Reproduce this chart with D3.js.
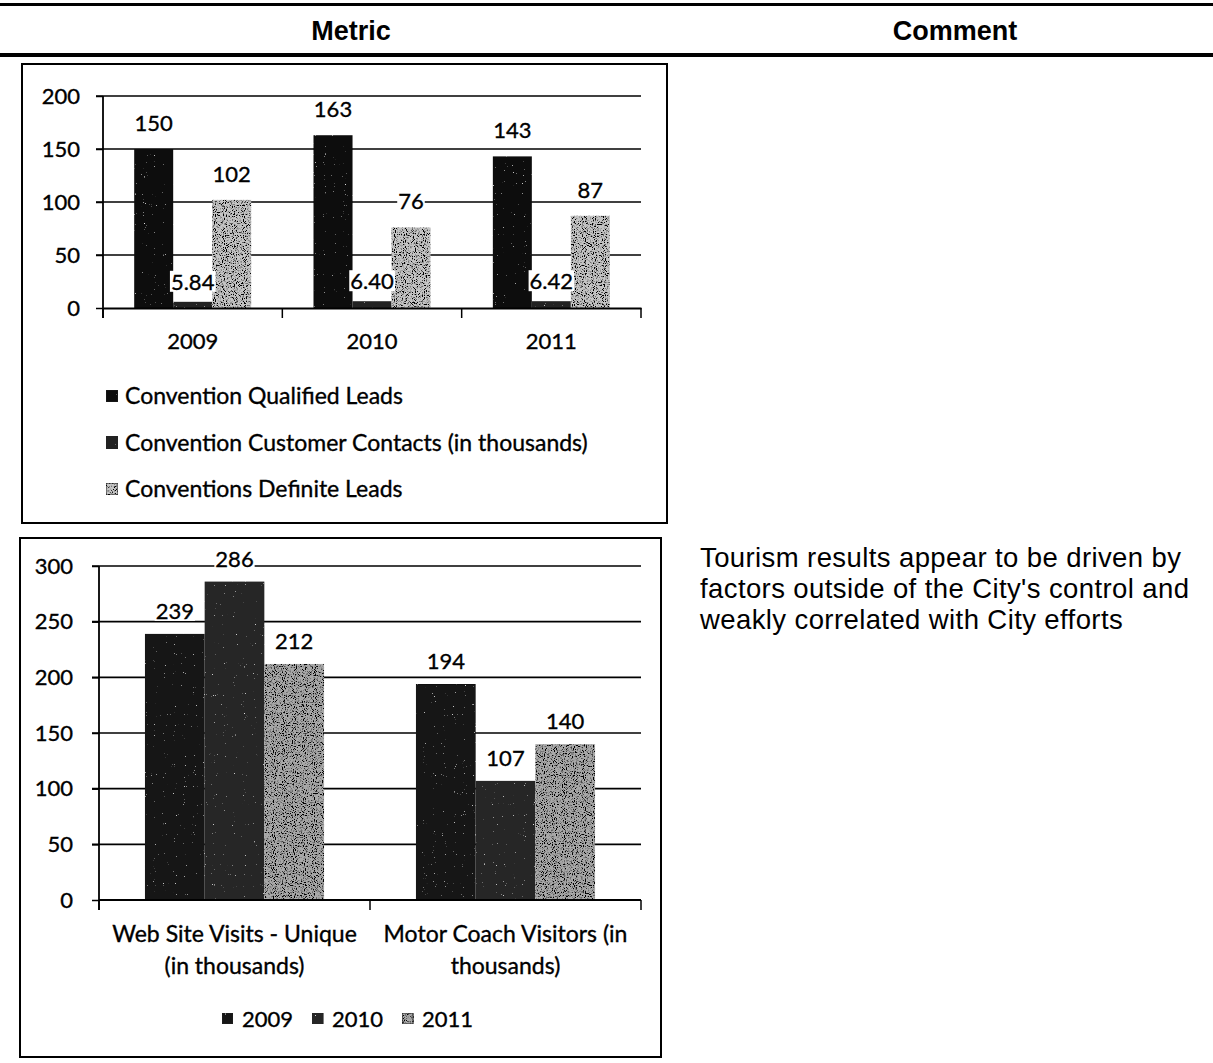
<!DOCTYPE html>
<html><head><meta charset="utf-8">
<script src="https://cdn.jsdelivr.net/npm/d3@7"></script>
<style>
html,body{margin:0;padding:0;background:#fff;}
svg{display:block;}
</style></head>
<body>
<script>
// ---------- DATA ----------
const years1 = ["2009", "2010", "2011"];
const series1Names = ["Convention Qualified Leads", "Convention Customer Contacts (in thousands)", "Conventions Definite Leads"];
const qualifiedLeads = [150, 163, 143];
const customerContacts = [5.84, 6.40, 6.42];
const definiteLeads = [102, 76, 87];
const ticks1 = [0, 50, 100, 150, 200];

const categories2 = [["Web Site Visits - Unique", "(in thousands)"], ["Motor Coach Visitors (in", "thousands)"]];
const years2 = ["2009", "2010", "2011"];
const visits2009 = [239, 194];
const visits2010 = [286, 107];
const visits2011 = [212, 140];
const ticks2 = [0, 50, 100, 150, 200, 250, 300];

const headers = ["Metric", "Comment"];
const commentLines = ["Tourism results appear to be driven by", "factors outside of the City's control and", "weakly correlated with City efforts"];

// ---------- LAYOUT ----------
const W = 1213, H = 1063;
const svg = d3.select("body").append("svg").attr("width", W).attr("height", H);
const chartFont = "Lato, 'Open Sans', sans-serif";
const armFont = "'Liberation Sans', Arial, sans-serif";

// texture filters (scan-like speckle)
const defs = svg.append("defs");
function speckle(id, freq, rgb, a, b, seed) {
  const f = defs.append("filter").attr("id", id).attr("x", 0).attr("y", 0).attr("width", "100%").attr("height", "100%");
  f.append("feTurbulence").attr("type", "fractalNoise").attr("baseFrequency", freq).attr("numOctaves", 1).attr("seed", seed).attr("result", "noise");
  f.append("feColorMatrix").attr("in", "noise").attr("type", "matrix")
    .attr("values", `0 0 0 0 ${rgb}  0 0 0 0 ${rgb}  0 0 0 0 ${rgb}  ${a} 0 0 0 ${b}`).attr("result", "dots");
  f.append("feComposite").attr("in", "dots").attr("in2", "SourceGraphic").attr("operator", "in").attr("result", "clip");
  const m = f.append("feMerge");
  m.append("feMergeNode").attr("in", "SourceGraphic");
  m.append("feMergeNode").attr("in", "clip");
}
speckle("spkDark", 0.9, 0, 7, -3.5, 4);
speckle("spkLight", 0.9, 1, 6, -4.3, 7);

const txtStroke = el => el.attr("stroke", "#000").attr("stroke-width", 0.35);

// header rules & text
svg.append("rect").attr("x", 0).attr("y", 3).attr("width", W).attr("height", 3).attr("fill", "#000");
svg.append("rect").attr("x", 0).attr("y", 53).attr("width", W).attr("height", 4).attr("fill", "#000");
svg.append("text").attr("x", 351).attr("y", 40).attr("text-anchor", "middle")
  .attr("font-family", armFont).attr("font-weight", "bold").attr("font-size", 27).text(headers[0]);
svg.append("text").attr("x", 955).attr("y", 40).attr("text-anchor", "middle")
  .attr("font-family", armFont).attr("font-weight", "bold").attr("font-size", 27).text(headers[1]);

// comment
svg.append("g").selectAll("text").data(commentLines).join("text")
  .attr("x", 700).attr("y", (d, i) => 567 + i * 31)
  .attr("font-family", armFont).attr("font-size", 27.5).attr("letter-spacing", 0.4).attr("fill", "#000").text(d => d);

// boxes
svg.append("rect").attr("x", 22).attr("y", 64).attr("width", 645).attr("height", 459)
  .attr("fill", "none").attr("stroke", "#000").attr("stroke-width", 2);
svg.append("rect").attr("x", 20).attr("y", 538).attr("width", 641).attr("height", 519)
  .attr("fill", "none").attr("stroke", "#000").attr("stroke-width", 2);

function labelWithBg(g, x, y, txt) {
  const t = g.append("text").attr("x", x).attr("y", y).attr("text-anchor", "middle")
    .attr("font-family", chartFont).attr("font-size", 22).attr("fill", "#000").text(txt);
  txtStroke(t);
  const bb = t.node().getBBox();
  g.insert("rect", () => t.node()).attr("x", bb.x - 1).attr("y", bb.y + 3).attr("width", bb.width + 2)
    .attr("height", bb.height - 6).attr("fill", "#fff");
}

function styleTicks(sel) {
  sel.selectAll("text").attr("font-family", chartFont).attr("font-size", 22).attr("fill", "#000")
    .attr("stroke", "#000").attr("stroke-width", 0.35);
}

// ---------- CHART 1 ----------
{
  const g = svg.append("g");
  const x0 = 103, x1 = 641, yBase = 308, yTop = 96;
  const y = d3.scaleLinear().domain([0, 200]).range([yBase, yTop]);
  const x = d3.scaleBand().domain(years1).range([x0, x1]).padding(0);
  const series = [qualifiedLeads, customerContacts, definiteLeads];
  const colors = ["#0c0c0c", "#222222", "#c4c4c4"];
  const filters = ["spkLight", "spkLight", "spkDark"];
  const xs = d3.scaleBand().domain(d3.range(series.length)).range([0, x.bandwidth()]).paddingInner(0).paddingOuter(0.8);
  g.append("g").selectAll("line").data(ticks1.slice(1)).join("line")
    .attr("x1", x0 - 7).attr("x2", x1).attr("y1", d => y(d)).attr("y2", d => y(d))
    .attr("stroke", "#000").attr("stroke-width", 1.6);
  const ya = g.append("g").attr("transform", `translate(${x0},0)`).call(d3.axisLeft(y).tickValues(ticks1).tickSize(7).tickPadding(16));
  ya.select(".domain").remove();
  ya.selectAll("line").attr("stroke", "#000").attr("stroke-width", 1.5);
  styleTicks(ya);
  g.append("line").attr("x1", x0).attr("x2", x0).attr("y1", yTop).attr("y2", yBase + 10).attr("stroke", "#000").attr("stroke-width", 1.8);
  series.forEach((vals, si) => {
    g.append("g").selectAll("rect").data(vals).join("rect")
      .attr("x", (d, i) => x(years1[i]) + xs(si)).attr("width", xs.bandwidth())
      .attr("y", d => y(d)).attr("height", d => yBase - y(d)).attr("fill", colors[si])
      .attr("filter", `url(#${filters[si]})`);
  });
  const xa = g.append("g").attr("transform", `translate(0,${yBase})`).call(d3.axisBottom(x).tickSize(0).tickPadding(25));
  xa.select(".domain").attr("stroke", "#000").attr("stroke-width", 1.8);
  styleTicks(xa);
  g.append("g").selectAll("line").data(d3.range(years1.length + 1)).join("line")
    .attr("x1", d => x0 + d * x.step()).attr("x2", d => x0 + d * x.step())
    .attr("y1", yBase).attr("y2", yBase + 10).attr("stroke", "#000").attr("stroke-width", 1.5);
  series.forEach((vals, si) => {
    vals.forEach((v, i) => {
      const txt = si === 1 ? d3.format(".2f")(v) : String(v);
      labelWithBg(g, x(years1[i]) + xs(si) + xs.bandwidth() / 2, y(v) - (si === 1 ? 12 : 18), txt);
    });
  });
  const lg = g.append("g");
  series1Names.forEach((n, i) => {
    const ly = 396 + i * 46.5;
    lg.append("rect").attr("x", 106).attr("y", ly - 6).attr("width", 12).attr("height", 12)
      .attr("fill", colors[i]).attr("stroke", "#222").attr("stroke-width", 1).attr("filter", `url(#${filters[i]})`);
    txtStroke(lg.append("text").attr("x", 125).attr("y", ly + 8).attr("font-family", chartFont).attr("font-size", 23)
      .attr("fill", "#000").text(n));
  });
}

// ---------- CHART 2 ----------
{
  const g = svg.append("g");
  const x0 = 99, x1 = 641, yBase = 900, yTop = 566;
  const y = d3.scaleLinear().domain([0, 300]).range([yBase, yTop]);
  const x = d3.scaleBand().domain(d3.range(categories2.length)).range([x0, x1]).padding(0);
  const series = [visits2009, visits2010, visits2011];
  const colors = ["#121212", "#282828", "#a8a8a8"];
  const filters = ["spkLight", "spkLight", "spkDark"];
  const xs = d3.scaleBand().domain(d3.range(series.length)).range([0, x.bandwidth()]).paddingInner(0).paddingOuter(0.77);
  g.append("g").selectAll("line").data(ticks2.slice(1)).join("line")
    .attr("x1", x0 - 7).attr("x2", x1).attr("y1", d => y(d)).attr("y2", d => y(d))
    .attr("stroke", "#000").attr("stroke-width", 1.6);
  const ya = g.append("g").attr("transform", `translate(${x0},0)`).call(d3.axisLeft(y).tickValues(ticks2).tickSize(7).tickPadding(19));
  ya.select(".domain").remove();
  ya.selectAll("line").attr("stroke", "#000").attr("stroke-width", 1.5);
  styleTicks(ya);
  g.append("line").attr("x1", x0).attr("x2", x0).attr("y1", yTop).attr("y2", yBase + 10).attr("stroke", "#000").attr("stroke-width", 1.8);
  series.forEach((vals, si) => {
    g.append("g").selectAll("rect").data(vals).join("rect")
      .attr("x", (d, i) => x(i) + xs(si)).attr("width", xs.bandwidth())
      .attr("y", d => y(d)).attr("height", d => yBase - y(d)).attr("fill", colors[si])
      .attr("filter", `url(#${filters[si]})`);
  });
  g.append("line").attr("x1", x0).attr("x2", x1).attr("y1", yBase).attr("y2", yBase).attr("stroke", "#000").attr("stroke-width", 1.8);
  g.append("g").selectAll("line").data(d3.range(categories2.length + 1)).join("line")
    .attr("x1", d => x0 + d * x.step()).attr("x2", d => x0 + d * x.step())
    .attr("y1", yBase).attr("y2", yBase + 10).attr("stroke", "#000").attr("stroke-width", 1.5);
  categories2.forEach((lines, ci) => {
    lines.forEach((ln, li) => {
      txtStroke(g.append("text").attr("x", x(ci) + x.bandwidth() / 2).attr("y", 942 + li * 32).attr("text-anchor", "middle")
        .attr("font-family", chartFont).attr("font-size", 23).attr("fill", "#000").text(ln));
    });
  });
  series.forEach((vals, si) => {
    vals.forEach((v, i) => {
      labelWithBg(g, x(i) + xs(si) + xs.bandwidth() / 2, y(v) - 15, String(v));
    });
  });
  let lx = 222;
  years2.forEach((yr, i) => {
    g.append("rect").attr("x", lx).attr("y", 1013).attr("width", 11).attr("height", 11)
      .attr("fill", colors[i]).attr("stroke", "#222").attr("stroke-width", 1).attr("filter", `url(#${filters[i]})`);
    const t = g.append("text").attr("x", lx + 20).attr("y", 1027).attr("font-family", chartFont).attr("font-size", 22)
      .attr("fill", "#000").text(yr);
    txtStroke(t);
    lx += 20 + t.node().getComputedTextLength() + 19;
  });
}
</script>
</body></html>
